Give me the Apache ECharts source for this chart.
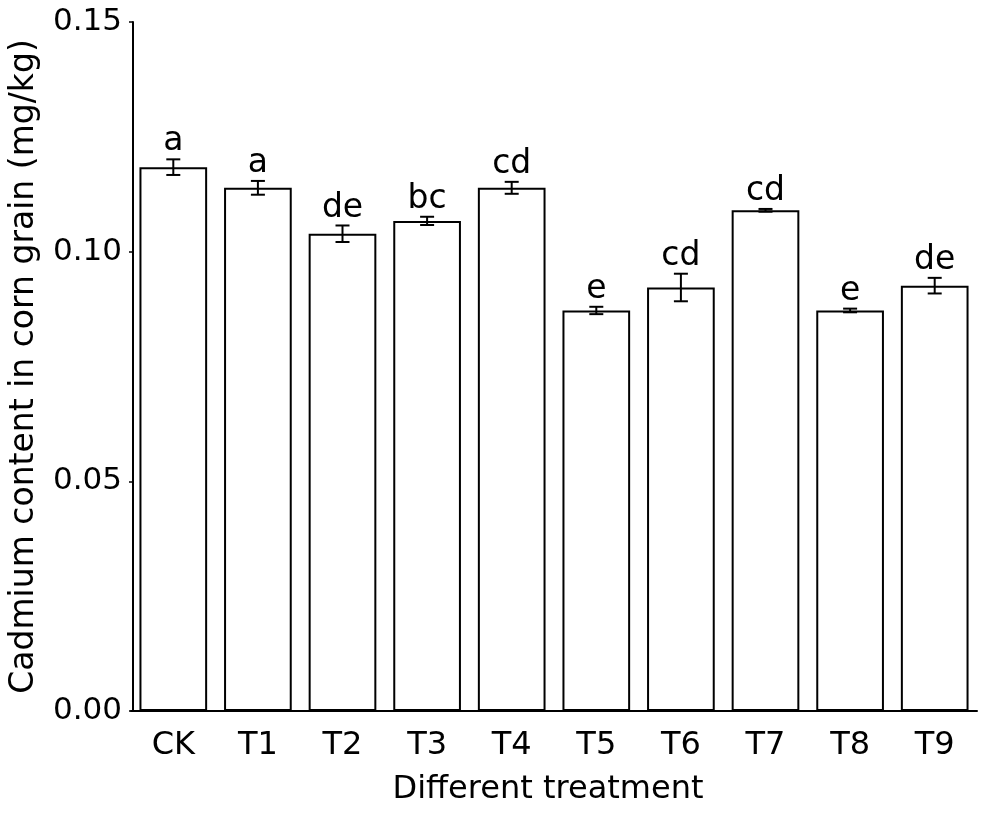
<!DOCTYPE html>
<html>
<head>
<meta charset="utf-8">
<script src="https://cdn.jsdelivr.net/npm/echarts@6/dist/echarts.min.js"></script>
<style>html,body{margin:0;padding:0;background:#fff}#c{width:981px;height:815px}</style>
</head>
<body>
<div id="c"></div>
<script>
var categories = ['CK','T1','T2','T3','T4','T5','T6','T7','T8','T9'];
var means = [0.1184, 0.1139, 0.1039, 0.1067, 0.1139, 0.0872, 0.0922, 0.1090, 0.0872, 0.0926];
var errors = [0.0017, 0.0015, 0.0018, 0.0009, 0.0013, 0.0008, 0.0030, 0.0003, 0.0004, 0.0017];
var letters = ['a','a','de','bc','cd','e','cd','cd','e','de'];
var yTicks = [0, 0.05, 0.10, 0.15];

var FONT = 'DejaVu Sans';
var chart = echarts.init(document.getElementById('c'));

var errData = categories.map(function(c, i){ return [i, means[i] - errors[i], means[i] + errors[i]]; });

chart.setOption({
  animation: false,
  backgroundColor: '#fff',
  grid: { left: 131, right: 4, top: 22, bottom: 104, containLabel: false, outerBoundsMode: 'none' },
  xAxis: {
    type: 'category',
    data: categories,
    name: 'Different treatment',
    nameLocation: 'middle',
    nameGap: 63,
    nameTextStyle: { fontFamily: FONT, fontSize: 32, color: '#000', padding: [0, 12, 0, 0] },
    axisLine: { lineStyle: { color: '#000', width: 2 } },
    axisTick: { show: false },
    axisLabel: { fontFamily: FONT, fontSize: 32, color: '#000', margin: 19 },
    splitLine: { show: false }
  },
  yAxis: {
    type: 'value',
    min: 0, max: 0.15, interval: 0.05,
    offset: -2,
    name: 'Cadmium content in corn grain (mg/kg)',
    nameLocation: 'middle',
    nameGap: 92,
    nameTextStyle: { fontFamily: FONT, fontSize: 33, color: '#000' },
    axisLine: { show: true, lineStyle: { color: '#000', width: 2 } },
    axisTick: { show: true, length: 4, lineStyle: { color: '#000', width: 1.5 } },
    axisLabel: {
      fontFamily: FONT, fontSize: 31, color: '#000', margin: 11,
      formatter: function(v){ return v.toFixed(2); }
    },
    splitLine: { show: false }
  },
  series: [
    {
      type: 'bar',
      data: means,
      barCategoryGap: '20%',
      itemStyle: { color: '#fff', borderColor: '#000', borderWidth: 2 },
      z: 2
    },
    {
      type: 'custom',
      data: errData,
      z: 3,
      renderItem: function(params, api){
        var x = api.value(0);
        var lo = api.coord([x, api.value(1)]);
        var hi = api.coord([x, api.value(2)]);
        var cap = 7;
        var style = { stroke: '#000', lineWidth: 2 };
        return {
          type: 'group',
          children: [
            { type: 'line', shape: { x1: lo[0], y1: lo[1], x2: hi[0], y2: hi[1] }, style: style },
            { type: 'line', shape: { x1: lo[0]-cap, y1: lo[1], x2: lo[0]+cap, y2: lo[1] }, style: style },
            { type: 'line', shape: { x1: hi[0]-cap, y1: hi[1], x2: hi[0]+cap, y2: hi[1] }, style: style },
            { type: 'text', style: { x: hi[0], y: hi[1] - 1, text: letters[params.dataIndex], fill: '#000',
                font: '33px "' + FONT + '"', align: 'center', verticalAlign: 'bottom' } }
          ]
        };
      }
    }
  ]
});
</script>
</body>
</html>
